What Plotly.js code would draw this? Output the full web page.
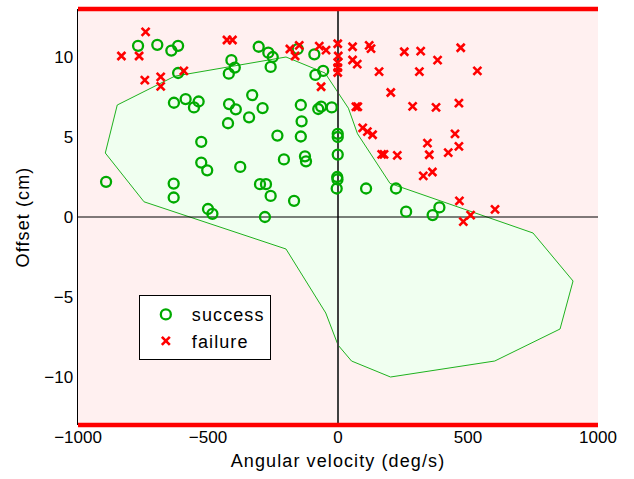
<!DOCTYPE html>
<html>
<head>
<meta charset="utf-8">
<script src="https://cdn.plot.ly/plotly-3.0.1.min.js"></script>
<style>
  html, body { margin: 0; padding: 0; background: #fff; }
  #chart { width: 634px; height: 479px; }
  .xtitle, .ytitle, .legendtext { letter-spacing: 1.1px; }
</style>
</head>
<body>
<div id="chart"></div>
<script>
// ---- data ----
const successX = [-892, -769, -695, -641, -615, -615, -631, -586, -554, -536,
  -419, -393, -423, -342, -330, -410, -397, -420, -305, -526,
  -268, -251, -259, -155, -91, -87, -57, -290, -143, -76,
  -65, -24, -140, -233, -143, -1, -1, -208, -127, -123,
  -1, -3, -2, -5, -300, -277, -259, -169, -281, 108,
  223, 262, 364, 390, -526, -503, -376, -632, -632, -500, -483];
const successY = [2.2, 10.7, 10.76, 10.4, 10.7, 9.0, 7.14, 7.37, 6.85, 7.22,
  7.06, 6.73, 5.86, 6.23, 7.62, 9.8, 9.34, 8.96, 10.64, 4.7,
  10.27, 10.0, 9.38, 10.5, 10.17, 8.88, 9.13, 6.81, 7.0, 6.75,
  6.9, 6.85, 5.98, 5.09, 5.03, 5.2, 5.0, 3.6, 3.79, 3.48,
  3.9, 2.5, 2.35, 1.78, 2.05, 2.05, 1.32, 1.01, 0.0, 1.78,
  1.78, 0.33, 0.12, 0.6, 3.4, 2.92, 3.13, 2.09, 1.22, 0.5, 0.2];

const failureX = [-740, -833, -765, -743, -682, -682, -593, -427, -406, -185,
  -149, -165, -72, -46, -1, 1, -1, -1, -1, 56,
  120, 127, 56, 74, 158, 255, 318, 313, -65, 203,
  69, 76, 287, 95, 113, 133, 472, 383, 536, 377,
  465, 450, 344, 465, 351, 424, 328, 363, 467, 604,
  510, 482, 168, 177, 228];
const failureY = [11.57, 10.06, 10.06, 8.55, 8.76, 8.16, 9.13, 11.06, 11.06, 10.5,
  10.73, 10.06, 10.68, 10.43, 10.83, 10.06, 9.65, 9.34, 9.03, 10.64,
  10.73, 10.52, 9.81, 9.55, 9.09, 10.33, 10.37, 9.09, 8.14, 7.78,
  6.89, 6.89, 6.91, 5.57, 5.34, 5.14, 10.58, 9.8, 9.13, 6.85,
  7.12, 5.2, 4.62, 4.41, 3.89, 4.02, 2.57, 2.81, 1.01, 0.48,
  0.12, -0.29, 3.91, 3.91, 3.85];

// success region boundary
const regionX = [-849, -628, -200, -50, 40, 75, 200, 750, 904, 854, 603, 202, 52, 0, -47, -200, -746, -895, -849];
const regionY = [7.0, 8.8, 10.0, 9.0, 6.8, 5.2, 2.1, -1.0, -4.0, -7.0, -9.0, -10.0, -9.0, -8.0, -6.0, -2.0, 0.95, 4.0, 7.0];

const xRange = [-1000, 1000];
const yRange = [-13, 13];
const xTicks = [-1000, -500, 0, 500, 1000];
const yTicks = [-10, -5, 0, 5, 10];

const FONT = 'Liberation Sans, Arial, Helvetica, sans-serif';

const traces = [
  { x: regionX, y: regionY, type: 'scatter', mode: 'lines', fill: 'toself',
    fillcolor: '#f0fff0', line: { color: '#1fb21f', width: 1 },
    showlegend: false, hoverinfo: 'skip' },
  { x: [0, 0], y: yRange, type: 'scatter', mode: 'lines',
    line: { color: '#404040', width: 2 }, showlegend: false, hoverinfo: 'skip' },
  { x: xRange, y: [0, 0], type: 'scatter', mode: 'lines',
    line: { color: '#000000', width: 1 }, showlegend: false, hoverinfo: 'skip' },
  { x: successX, y: successY, type: 'scatter', mode: 'markers', name: 'success',
    legendgroup: 'a',
    marker: { symbol: 'circle-open', size: 10, color: '#00aa00', line: { width: 2.3, color: '#00aa00' } } },
  { x: failureX, y: failureY, type: 'scatter', mode: 'markers', name: 'failure',
    legendgroup: 'b',
    marker: { symbol: 'x-thin', size: 8, color: '#ff0000', line: { width: 2.6, color: '#ff0000' } } }
];

const layout = {
  width: 634, height: 479,
  margin: { l: 78, r: 36, t: 9, b: 54 },
  paper_bgcolor: '#ffffff',
  plot_bgcolor: '#fff0f0',
  font: { family: FONT, size: 17, color: '#000' },
  xaxis: {
    range: xRange, tickvals: xTicks, showgrid: false, zeroline: false,
    showline: false, ticks: '', tickfont: { size: 17 },
    title: { text: 'Angular velocity (deg/s)', font: { size: 18 }, standoff: 8 }
  },
  yaxis: {
    range: yRange, tickvals: yTicks, showgrid: false, zeroline: false,
    showline: true, linecolor: '#000', linewidth: 1.5, ticks: '', tickfont: { size: 17 },
    title: { text: 'Offset (cm)', font: { size: 18 }, standoff: 10 }
  },
  shapes: [
    { type: 'line', xref: 'paper', yref: 'paper', x0: 0, x1: 1, y0: 1, y1: 1,
      line: { color: '#ff0000', width: 4.5 } },
    { type: 'line', xref: 'paper', yref: 'paper', x0: 0, x1: 1, y0: 0, y1: 0,
      line: { color: '#ff0000', width: 4.5 } }
  ],
  legend: {
    x: 0.117, y: 0.312, xanchor: 'left', yanchor: 'top',
    bgcolor: '#ffffff', bordercolor: '#000000', borderwidth: 1,
    font: { size: 18 }, tracegroupgap: 0, itemwidth: 42
  },
  showlegend: true
};

Plotly.newPlot('chart', traces, layout, { displayModeBar: false, staticPlot: true });
</script>
</body>
</html>
